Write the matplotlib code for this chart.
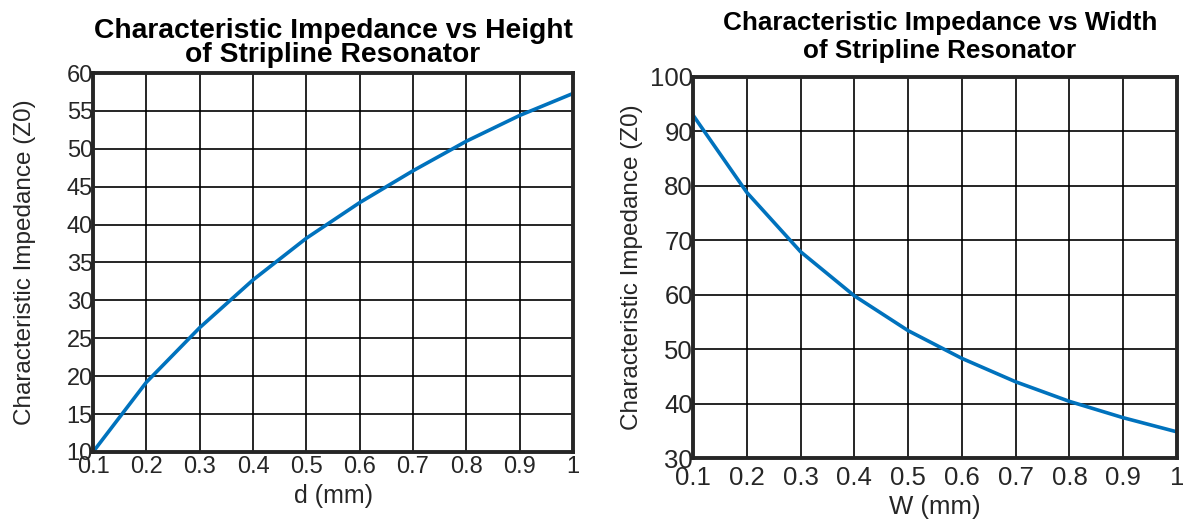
import numpy as np
import matplotlib
matplotlib.use("Agg")
import matplotlib.pyplot as plt

plt.rcParams['font.family'] = ['Liberation Sans', 'DejaVu Sans']

# stripline sweeps: height d and width W in mm, impedance Z0 in ohms
d_mm = [0.1, 0.2, 0.3, 0.4, 0.5, 0.6, 0.7, 0.8, 0.9, 1.0]
z0_vs_d = [10.0, 19.2, 26.4, 32.7, 38.2, 42.9, 47.1, 51.0, 54.4, 57.3]

w_mm = [0.1, 0.2, 0.3, 0.4, 0.5, 0.6, 0.7, 0.8, 0.9, 1.0]
z0_vs_w = [93.0, 78.8, 67.9, 59.8, 53.4, 48.3, 44.0, 40.4, 37.4, 34.8]

x_ticks = [0.1, 0.2, 0.3, 0.4, 0.5, 0.6, 0.7, 0.8, 0.9, 1]
x_labels = ['0.1', '0.2', '0.3', '0.4', '0.5', '0.6', '0.7', '0.8', '0.9', '1']

W, H = 1183, 521
fig = plt.figure(figsize=(W / 100, H / 100), dpi=100)
blue = '#0072BD'
dark = '#262626'


def style(ax, fs):
    ax.grid(True, color='black', linewidth=1.2)
    ax.set_axisbelow(True)
    for s in ax.spines.values():
        s.set_linewidth(2.8)
        s.set_color(dark)
    ax.tick_params(length=0, labelsize=fs, colors=dark, pad=0)
    ax.set_xticks(x_ticks)
    ax.set_xticklabels(x_labels)


ax1 = fig.add_axes([93 / W, (H - 452) / H, 480 / W, 379 / H])
ax1.plot(d_mm, z0_vs_d, color=blue, lw=2.6)
ax1.set_xlim(0.1, 1)
ax1.set_ylim(10, 60)
ax1.set_yticks(range(10, 61, 5))
style(ax1, 17)
ax1.tick_params(axis='x', pad=3)
ax1.set_xlabel('d (mm)', fontsize=18, color=dark)
ax1.set_ylabel('Characteristic Impedance (Z0)', fontsize=17.5, color=dark)
ax1.xaxis.set_label_coords(0.5, -0.085)
ax1.yaxis.set_label_coords(-0.118, 0.5)
fig.text(333 / W, 1 - 43 / H, 'Characteristic Impedance vs Height\nof Stripline Resonator',
         fontsize=20.3, fontweight='bold', linespacing=0.89, ha='center', va='center')

ax2 = fig.add_axes([693 / W, (H - 458) / H, 484 / W, 381 / H])
ax2.plot(w_mm, z0_vs_w, color=blue, lw=2.6)
ax2.set_xlim(0.1, 1)
ax2.set_ylim(30, 100)
ax2.set_yticks(range(30, 101, 10))
style(ax2, 18.5)
ax2.tick_params(axis='x', pad=6)
ax2.set_xlabel('W (mm)', fontsize=18.5, color=dark)
ax2.set_ylabel('Characteristic Impedance (Z0)', fontsize=17.5, color=dark)
ax2.xaxis.set_label_coords(0.5, -0.097)
ax2.yaxis.set_label_coords(-0.103, 0.5)
fig.text(940 / W, 1 - 37 / H, 'Characteristic Impedance vs Width\nof Stripline Resonator',
         fontsize=18.8, fontweight='bold', linespacing=1.25, ha='center', va='center')

fig.savefig('out.png', dpi=100)
